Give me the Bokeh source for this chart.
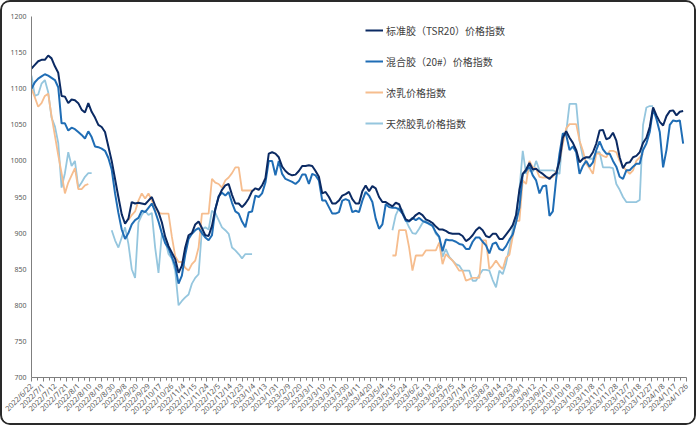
import math
import numpy as np
from bokeh.plotting import figure
from bokeh.models import Range1d, FixedTicker, Legend, LegendItem
from bokeh.embed import file_html
from bokeh.resources import INLINE

N = None

# x-axis tick labels (one every 7 trading days)
labels = ["2022/6/22","2022/7/1","2022/7/12","2022/7/21","2022/8/1","2022/8/10","2022/8/19","2022/8/30",
          "2022/9/8","2022/9/20","2022/9/29","2022/10/17","2022/10/26","2022/11/4","2022/11/15","2022/11/24",
          "2022/12/5","2022/12/14","2022/12/23","2023/1/4","2023/1/13","2023/1/31","2023/2/9","2023/2/20",
          "2023/3/1","2023/3/10","2023/3/21","2023/3/30","2023/4/11","2023/4/20","2023/5/4","2023/5/15",
          "2023/5/24","2023/6/2","2023/6/13","2023/6/26","2023/7/5","2023/7/14","2023/7/25","2023/8/3",
          "2023/8/14","2023/8/23","2023/9/1","2023/9/12","2023/9/21","2023/10/10","2023/10/19","2023/10/30",
          "2023/11/8","2023/11/17","2023/11/28","2023/12/7","2023/12/18","2023/12/27","2024/1/8","2024/1/17",
          "2024/1/26"]

# trading-day index of each sample (every 2nd trading day)
day = list(range(0, 392, 2))

tsr20 = [1128,1133,1138,1140,1140,1146,1142,1131,1122,1090,
         1089,1080,1085,1084,1080,1071,1067,1080,1068,1060,
         1050,1047,1040,1020,1000,975,950,926,913,920,
         943,941,942,941,940,945,950,938,929,915,
         895,882,873,864,845,855,880,897,900,912,
         916,907,897,896,910,933,950,960,966,968,
         953,941,941,936,941,948,958,962,960,966,
         976,1010,1012,1010,1005,992,986,982,980,981,
         986,993,993,994,993,986,978,955,957,950,
         941,941,945,952,954,957,947,941,941,958,
         966,958,965,962,950,943,943,940,937,942,
         940,928,919,917,920,925,928,925,919,917,
         914,909,905,905,903,900,899,899,899,896,
         889,892,897,904,908,904,896,894,899,899,
         892,892,898,904,911,925,960,982,988,997,
         988,989,985,982,978,975,980,983,1000,1032,
         1041,1032,1025,1015,998,1003,1005,1005,1012,1024,
         1042,1043,1030,1032,1039,1028,1005,990,997,998,
         1005,1007,1012,1025,1032,1047,1074,1063,1054,1049,
         1062,1069,1070,1063,1068,1069]

mix20 = [1100,1109,1114,1117,1120,1118,1115,1112,1102,1052,
         1052,1042,1046,1044,1040,1036,1031,1041,1033,1020,
         1019,1017,1014,1004,988,955,928,905,892,900,
         912,918,921,931,929,935,941,930,916,900,
         886,879,867,855,830,841,870,892,899,904,
         907,900,894,890,897,933,951,956,952,957,
         942,930,927,916,908,929,930,952,950,955,
         970,1000,1000,980,1000,982,975,973,971,968,
         972,981,981,968,982,980,973,945,945,936,
         927,927,929,945,947,945,929,931,929,945,
         957,952,943,920,906,912,940,936,935,935,
         933,927,917,916,921,918,921,917,915,913,
         910,901,895,875,891,890,890,888,885,884,
         878,878,888,894,894,888,883,872,885,887,
         878,876,882,891,898,915,935,982,986,992,
         980,973,955,965,966,924,930,975,1010,1038,
         1036,1015,1020,1012,982,993,1000,992,998,1015,
         1027,1016,1010,1010,1000,992,978,975,987,987,
         992,996,996,1015,1024,1040,1072,1058,1040,991,
         1015,1050,1056,1055,1056,1024]

conc_latex = ([1100,1088,1075,1080,1090,1093,1062,1035,1008,983,
               955,970,980,990,961,961,966,968,N,N]
              + [N]*9 + [918,
               925,930,945,955,948,955,945,935,928,927,
               927,927,895,868,860,860,852,848,857,862,
               880,927,927,927,975,970,968,963,973,977,
               983,991,991,959,959,959,959]
              + [N]*41 +
              [869,869,
               904,904,904,880,848,869,869,869,876,876,
               876,876,887,857,871,866,862,855,848,848,
               834,836,838,838,838,890,890,850,855,862,
               855,850,866,870,895,917,917,973,968,1000,
               991,989,978,977,977,977,978,985,1000,1024,
               1045,1051,1051,1051,1028,1014,996,990,982,1010,
               1010,1007,1005,1014,1014,1012,1000,992,987,982,
               987,1000,1005,1010]
              + [N]*12)

nat_latex = ([1118,1090,1092,1107,1112,1095,1060,1048,1025,963,
              983,1012,993,1000,963,970,978,983,983,N,
              N,N,N,N,904,890,880,894,908,885,
              850,838,915,925,931,925,928,880,845,899,
              890,871,865,848,800,806,811,815,830,838,
              843,905,908,905,931,928,918,908,904,899,
              880,876,871,865,871,871,871]
             + [N]*41 +
             [904,925,
              935,932,918,908,900,899,906,914,917,912,
              910,899,894,867,878,867,862,857,855,848,
              848,848,834,834,842,849,849,848,835,825,
              848,843,858,880,905,925,960,1014,982,987,
              985,1000,987,987,987,987,987,985,982,1037,
              1040,1079,1079,1079,1028,1005,1005,1003,1003,1012,
              1012,991,991,991,990,968,960,950,943,943,
              943,943,946,1050,1074,1076,1076]
             + [N]*9)

names = ["标准胶（TSR20）价格指数", "混合胶（20#）价格指数", "浓乳价格指数", "天然胶乳价格指数"]
colors = ["#0b2a63", "#1f6db5", "#f6bd8e", "#95c6de"]

for s in (tsr20, mix20, conc_latex, nat_latex):
    assert len(s) == len(day), len(s)

def arr(s):
    return np.array([np.nan if v is None else v for v in s], dtype=float)

p = figure(width=696, height=425, output_backend="svg", toolbar_location=None,
           x_range=Range1d(0, 392), y_range=Range1d(700, 1200),
           min_border_left=29, min_border_right=12, min_border_top=14, min_border_bottom=50)
p.styles = {"border": "2px solid #2a2a2a", "border-radius": "10px", "overflow": "hidden"}
p.background_fill_color = "white"
p.border_fill_color = "white"
p.outline_line_color = None
p.xgrid.visible = False
p.ygrid.visible = False

xd = np.array(day, dtype=float)
r_nat = p.line(xd, arr(nat_latex), line_color=colors[3], line_width=1.8)
r_conc = p.line(xd, arr(conc_latex), line_color=colors[2], line_width=1.8)
r_mix = p.line(xd, arr(mix20), line_color=colors[1], line_width=2.0)
r_tsr = p.line(xd, arr(tsr20), line_color=colors[0], line_width=2.0)

ticks = [i * 7 for i in range(len(labels))]
p.xaxis.ticker = FixedTicker(ticks=ticks, minor_ticks=[t + 3.5 for t in ticks[:-1]])
p.xaxis.major_label_overrides = {t: lab for t, lab in zip(ticks, labels)}
p.xaxis.major_label_orientation = math.pi / 4
p.xaxis.major_label_text_font_size = "7.5px"
p.xaxis.major_label_text_color = "#595959"
p.xaxis.major_label_text_font = "Noto Sans"
p.xaxis.major_tick_out = 4
p.xaxis.major_tick_in = 0
p.xaxis.minor_tick_out = 3
p.xaxis.minor_tick_in = 0
p.xaxis.major_label_standoff = 3

p.yaxis.ticker = FixedTicker(ticks=list(range(700, 1201, 50)))
p.yaxis.major_label_text_font_size = "7px"
p.yaxis.major_label_text_color = "#595959"
p.yaxis.major_label_text_font = "Noto Sans"
p.yaxis.major_tick_out = 0
p.yaxis.major_tick_in = 0
p.yaxis.minor_tick_out = 0
p.yaxis.minor_tick_in = 0
p.yaxis.major_label_standoff = 5

for ax in (p.xaxis, p.yaxis):
    ax.axis_line_color = "#7f7f7f"
    ax.major_tick_line_color = "#7f7f7f"
    ax.minor_tick_line_color = "#7f7f7f"

legend = Legend(items=[LegendItem(label=names[0], renderers=[r_tsr]),
                       LegendItem(label=names[1], renderers=[r_mix]),
                       LegendItem(label=names[2], renderers=[r_conc]),
                       LegendItem(label=names[3], renderers=[r_nat])],
                location=(334, 244), orientation="vertical",
                background_fill_alpha=0, border_line_alpha=0,
                glyph_width=18, glyph_height=20, label_height=20, spacing=11,
                padding=0, margin=0, label_standoff=3,
                label_text_font="Noto Sans CJK SC", label_text_font_size="10px",
                label_text_color="#404040")
p.add_layout(legend)

open("out.html", "w").write(file_html(p, INLINE))
